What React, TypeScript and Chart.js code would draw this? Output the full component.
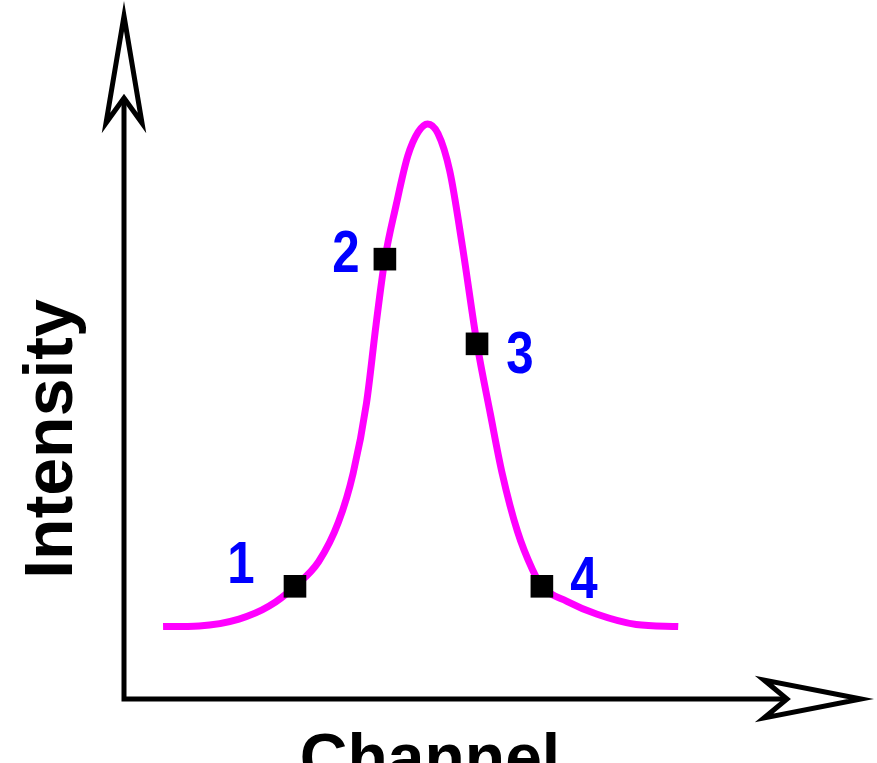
import React, { useEffect, useRef } from "react";
import { Chart, registerables } from "chart.js";

Chart.register(...registerables);

// Curve (channel, intensity) in arbitrary units 0..100
const curveX = [5.3, 10.2, 15.6, 19.7, 23.2, 26.4, 29.1, 31.1, 32.9, 34.2, 35.4, 36.9, 38.5, 39.9, 41.2, 42.6, 44.2, 45.9, 47.9, 49.7, 51.3, 53.4, 55.4, 56.7, 60.1, 64.2, 69.5, 75.2];
const curveY = [10.6, 10.7, 11.7, 13.6, 16.5, 20.1, 25.9, 33.1, 43.3, 54.8, 64.4, 72.2, 79.5, 83.0, 84.2, 82.8, 77.3, 66.4, 52.0, 41.8, 33.1, 24.5, 19.0, 16.5, 14.3, 12.4, 10.9, 10.6];

// Marked sample points
const markerX = [23.2, 35.4, 47.9, 56.7];
const markerY = [16.5, 64.4, 52.0, 16.5];
const markerLabels = ["1", "2", "3", "4"];

const xTitle = "Channel";
const yTitle = "Intensity";

const W = 877;
const H = 763;

export default function App() {
  const ref = useRef<HTMLCanvasElement | null>(null);

  useEffect(() => {
    const canvas = ref.current;
    if (!canvas) return;

    const labelOffsets = [
      [-54, -25],
      [-39, -9],
      [43, 7],
      [42, -10],
    ];

    const decor = {
      id: "decor",
      beforeDatasetsDraw(chart: any) {
        const ctx = chart.ctx as CanvasRenderingContext2D;
        const a = chart.chartArea;
        const x0 = a.left;
        const y0 = a.bottom;
        ctx.save();
        ctx.strokeStyle = "#000";
        ctx.lineWidth = 5;
        ctx.lineJoin = "miter";
        ctx.lineCap = "butt";
        // axis lines
        ctx.beginPath();
        ctx.moveTo(x0, a.top + 82);
        ctx.lineTo(x0, y0);
        ctx.lineTo(a.right - 74, y0);
        ctx.stroke();
        // vertical arrow head
        ctx.beginPath();
        ctx.moveTo(x0, a.top);
        ctx.lineTo(x0 + 18, a.top + 107);
        ctx.lineTo(x0, a.top + 82);
        ctx.lineTo(x0 - 18, a.top + 107);
        ctx.closePath();
        ctx.fillStyle = "#fff";
        ctx.fill();
        ctx.stroke();
        // horizontal arrow head
        ctx.beginPath();
        ctx.moveTo(a.right, y0);
        ctx.lineTo(a.right - 97, y0 - 19);
        ctx.lineTo(a.right - 74, y0);
        ctx.lineTo(a.right - 97, y0 + 19);
        ctx.closePath();
        ctx.fill();
        ctx.stroke();

        // axis titles
        ctx.fillStyle = "#000";
        ctx.font = "bold 68px 'Liberation Sans', Arial, sans-serif";
        ctx.textAlign = "center";
        ctx.textBaseline = "alphabetic";
        ctx.save();
        ctx.translate(72, 439);
        ctx.rotate(-Math.PI / 2);
        ctx.fillText(yTitle, 0, 0);
        ctx.restore();
        ctx.font = "bold 66px 'Liberation Sans', Arial, sans-serif";
        ctx.fillText(xTitle, 430, 780);
        ctx.restore();
      },
      afterDatasetsDraw(chart: any) {
        const ctx = chart.ctx as CanvasRenderingContext2D;
        const meta = chart.getDatasetMeta(0);
        ctx.save();
        ctx.fillStyle = "#0000ff";
        ctx.font = "bold 60px 'Liberation Sans', Arial, sans-serif";
        ctx.textAlign = "center";
        ctx.textBaseline = "alphabetic";
        meta.data.forEach((pt: any, i: number) => {
          const [dx, dy] = labelOffsets[i] || [0, 0];
          ctx.save();
          ctx.translate(pt.x + dx, pt.y + dy + 22);
          ctx.scale(0.82, 1);
          ctx.fillText(markerLabels[i], 0, 0);
          ctx.restore();
        });
        ctx.restore();
      },
    };

    const chart = new Chart(canvas, {
      type: "line",
      data: {
        datasets: [
          {
            label: "markers",
            data: markerX.map((x, i) => ({ x, y: markerY[i] })),
            showLine: false,
            pointStyle: "rect",
            pointRadius: 16,
            pointBackgroundColor: "#000",
            pointBorderWidth: 0,
            borderWidth: 0,
          } as any,
          {
            label: "curve",
            data: curveX.map((x, i) => ({ x, y: curveY[i] })),
            borderColor: "#ff00ff",
            borderWidth: 7,
            pointRadius: 0,
            tension: 0.4,
            cubicInterpolationMode: "monotone",
            borderCapStyle: "butt",
            fill: false,
          } as any,
        ],
      },
      options: {
        responsive: false,
        animation: false,
        events: [],
        layout: { padding: { left: 124, right: W - 866, top: 8, bottom: H - 699 } },
        scales: {
          x: { type: "linear", min: 0, max: 100, display: false },
          y: { type: "linear", min: 0, max: 100, display: false },
        },
        plugins: {
          legend: { display: false },
          tooltip: { enabled: false },
        },
      },
      plugins: [decor],
    });

    return () => chart.destroy();
  }, []);

  return (
    <div style={{ position: "fixed", left: 0, top: 0, width: W, height: H, background: "#fff" }}>
      <canvas ref={ref} width={W} height={H} style={{ width: W, height: H, display: "block" }} />
    </div>
  );
}
